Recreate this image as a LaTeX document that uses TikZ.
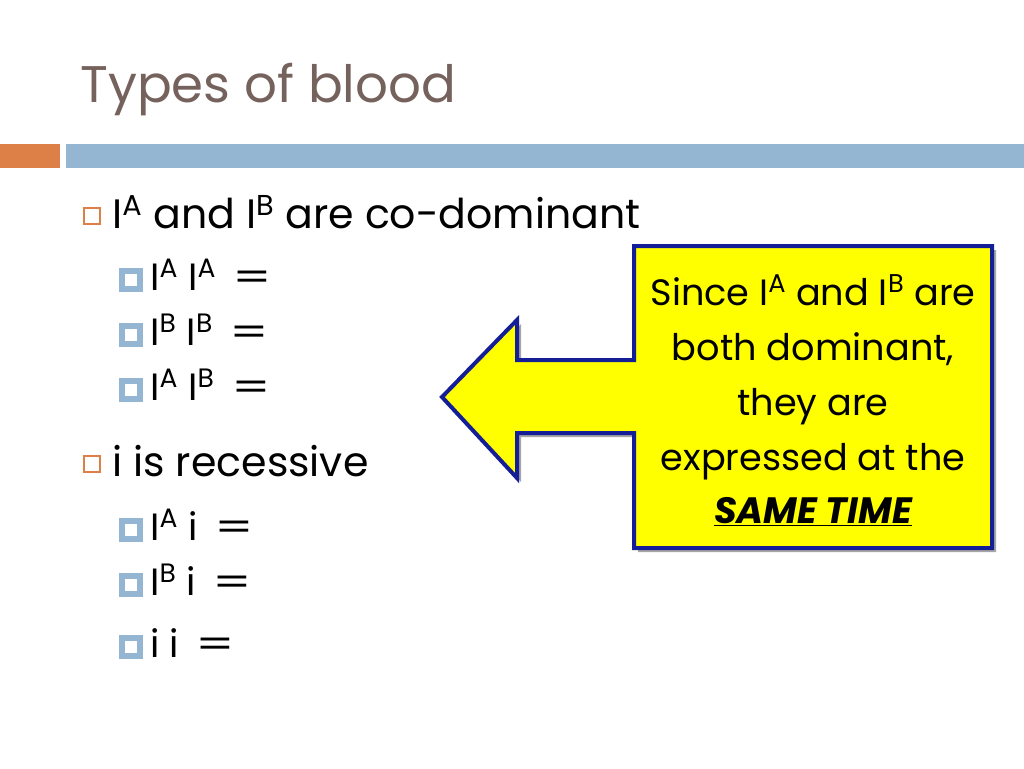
\documentclass[tikz,border=0pt]{standalone}
\usepackage{fontspec}
\usepackage{graphicx}
\setmainfont{Poppins}
\definecolor{titlec}{HTML}{76625C}
\definecolor{orangec}{HTML}{DD8047}
\definecolor{bluec}{HTML}{94B6D2}
\definecolor{navyc}{HTML}{141E96}
\definecolor{yellowc}{HTML}{FFFF00}
\newcommand{\sA}{\textsuperscript{A}}
\newcommand{\sB}{\textsuperscript{B}}
\newcommand{\weq}{\,\scalebox{1.45}[1]{=}}
\begin{document}
\begin{tikzpicture}[x=0.75pt,y=-0.75pt,
  lvlone/.style={anchor=base west,inner sep=0pt,font=\fontsize{30.8}{36}\selectfont},
  lvltwo/.style={anchor=base west,inner sep=0pt,font=\fontsize{28.5}{32}\selectfont},
  bulone/.style={draw=orangec,line width=1.1pt,minimum size=12pt,inner sep=0pt},
  bultwo/.style={draw=bluec,fill=white,line width=4pt,minimum size=13.5pt,inner sep=0pt},
  calltext/.style={anchor=base,inner sep=0pt,font=\fontsize{27.5}{32}\selectfont}]
\useasboundingbox (0,0) rectangle (1024,768);
\fill[white] (0,0) rectangle (1024,768);
% title
\node[anchor=base west,inner sep=0pt,text=titlec,font=\fontsize{38.6}{46}\selectfont] (title) at (80,102) {Types of blood};
% bars
\fill[orangec] (0,144) rectangle (60,168);
\fill[bluec] (66,144) rectangle (1024,168);
% level one
\node[bulone] (b1) at (92,216) {};
\node[lvlone] (t1) at (112,228) {I\sA{} and I\sB{} are co-dominant};
\node[bultwo] (b11) at (131,280) {};
\node[lvltwo] (t11) at (150,290) {I\sA{} I\sA{} \weq};
\node[bultwo] (b12) at (131,335) {};
\node[lvltwo] (t12) at (150,345) {I\sB{} I\sB{} \weq};
\node[bultwo] (b13) at (131,390) {};
\node[lvltwo] (t13) at (150,400) {I\sA{} I\sB{} \weq};
\node[bulone] (b2) at (92,464) {};
\node[lvlone] (t2) at (112,476) {i is recessive};
\node[bultwo] (b21) at (131,530) {};
\node[lvltwo] (t21) at (150,540) {I\sA{} i \weq};
\node[bultwo] (b22) at (131,585) {};
\node[lvltwo] (t22) at (150,595) {I\sB{} i \weq};
\node[bultwo] (b23) at (131,647) {};
\node[lvltwo] (t23) at (150,657) {i i \weq};
% callout shadow
\fill[black!35] (638,250) -- (996,250) -- (996,552) -- (638,552) -- (638,437) -- (521,437) -- (521,482) -- (446,401) -- (521,324) -- (521,364) -- (638,364) -- cycle;
% callout
\draw[navyc,fill=yellowc,line width=3pt,line join=miter] (634,246) -- (992,246) -- (992,548) -- (634,548) -- (634,433) -- (517,433) -- (517,478) -- (442,397) -- (517,320) -- (517,360) -- (634,360) -- cycle;
\node[calltext] (c1) at (813,305) {Since I\sA{} and I\sB{} are};
\node[calltext] (c2) at (813,360) {both dominant,};
\node[calltext] (c3) at (813,415) {they are};
\node[calltext] (c4) at (813,470) {expressed at the};
\node[calltext] (c5) at (813,523) {\bfseries\itshape\underline{SAME TIME}};
\end{tikzpicture}
\end{document}
